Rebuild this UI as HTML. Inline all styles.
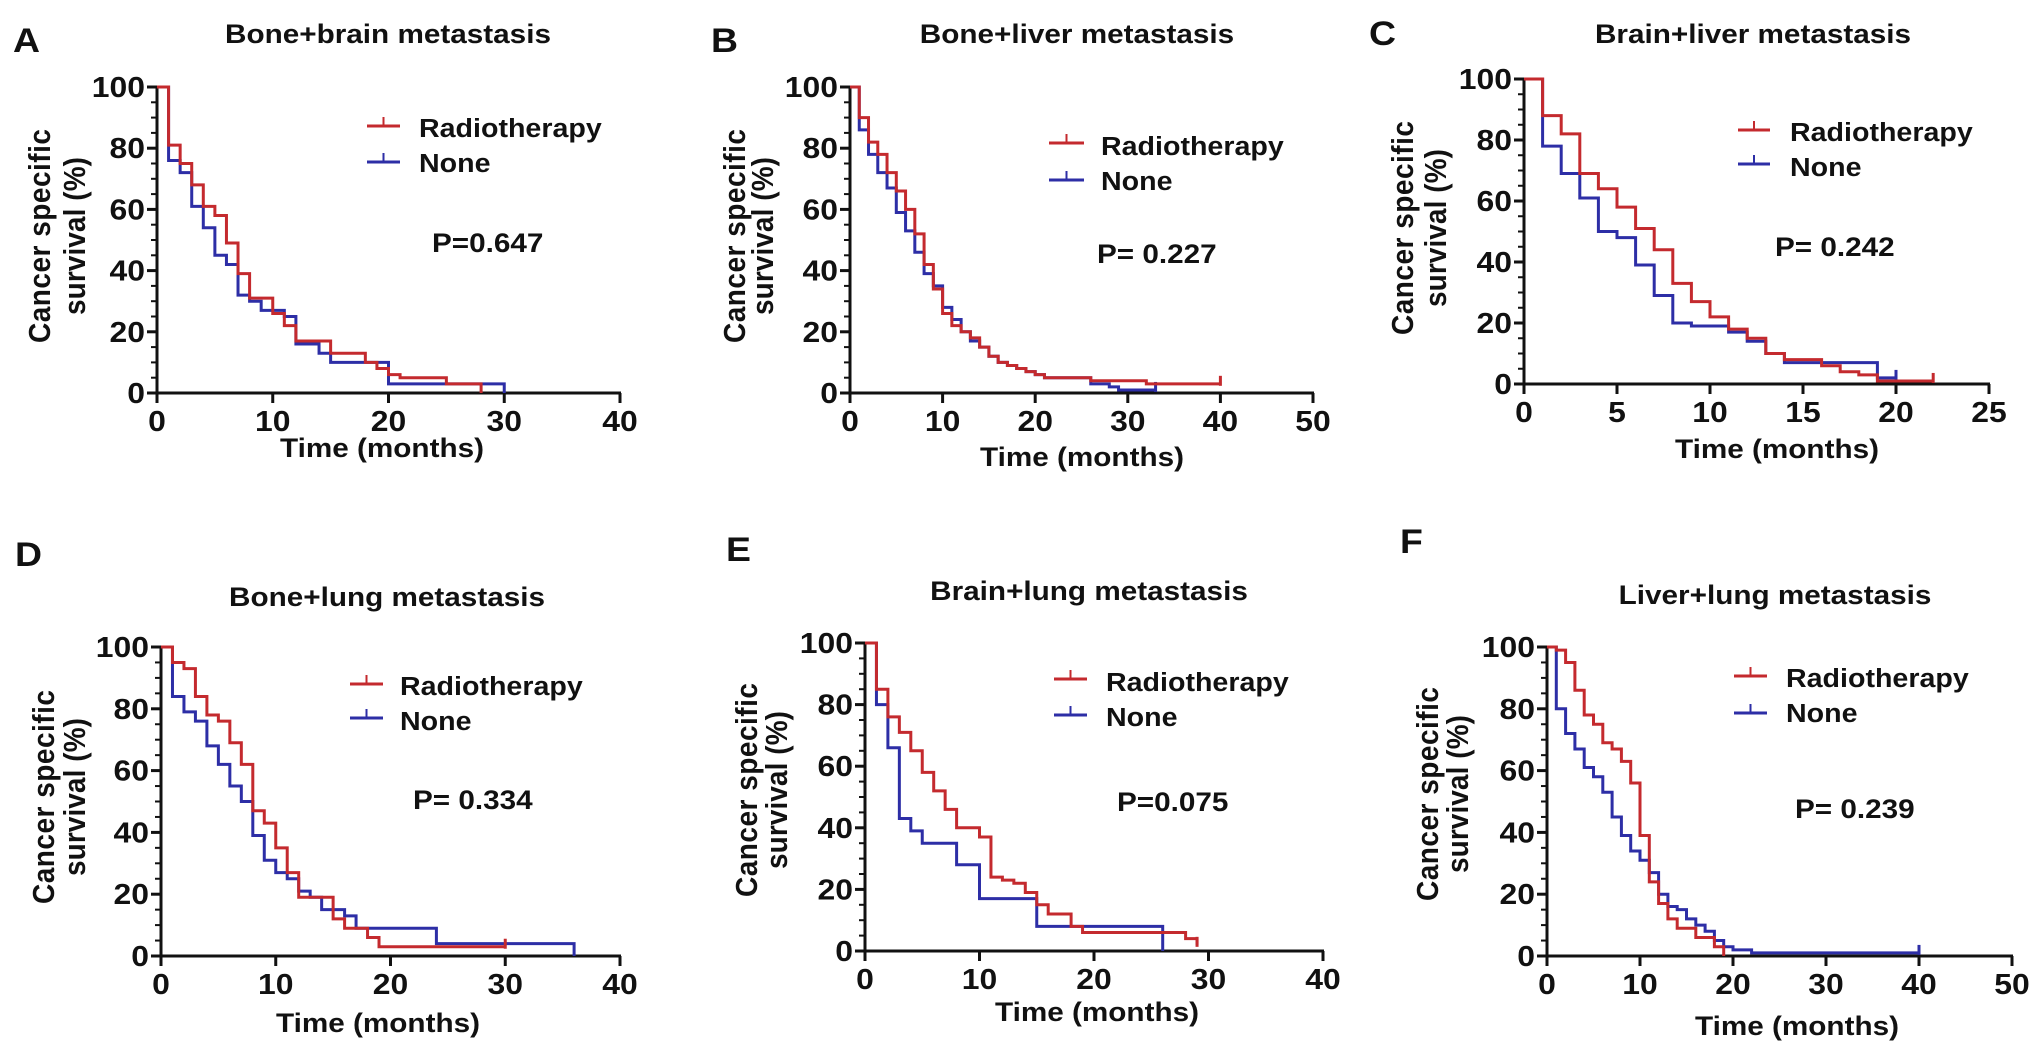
<!DOCTYPE html>
<html><head><meta charset="utf-8"><style>
html,body{margin:0;padding:0;background:#fff;}
svg{display:block;font-family:"Liberation Sans",Arial,sans-serif;font-weight:bold;}
</style></head><body>
<svg id="fig" width="2031" height="1054" viewBox="0 0 2031 1054" xmlns="http://www.w3.org/2000/svg"></svg>
<script>
// ---------- DATA (time of drop, survival after drop, end time) ----------
const aRadT=[1,2,3,4,5,6,7,8,10,11,12,15,18,19,20,21,25,28];
const aRadS=[81,75,68,61,58,49,39,31,26,22,17,13,10,8,6,5,3,0];
const aRadEnd=28;
const aNoneT=[1,2,3,4,5,6,7,8,9,11,12,14,15,20,30];
const aNoneS=[76,72,61,54,45,42,32,30,27,25,16,13,10,3,0];
const aNoneEnd=30;

const bRadT=[1,2,3,4,5,6,7,8,9,10,11,12,13,14,15,16,17,18,19,20,21,26,32];
const bRadS=[90,82,78,72,66,60,52,42,34,26,22,20,18,15,12,10,9,8,7,6,5,4,3];
const bRadEnd=40;
const bNoneT=[1,2,3,4,5,6,7,8,9,10,11,12,13,14,15,16,17,18,19,20,21,26,28,29];
const bNoneS=[86,78,72,67,59,53,46,39,35,28,24,20,17,15,12,10,9,8,7,6,5,3,2,1];
const bNoneEnd=33;

const cRadT=[1,2,3,4,5,6,7,8,9,10,11,12,13,14,16,17,18,19];
const cRadS=[88,82,69,64,58,51,44,33,27,22,18,15,10,8,6,4,3,1];
const cRadEnd=22;
const cNoneT=[1,2,3,4,5,6,7,8,9,11,12,13,14,19];
const cNoneS=[78,69,61,50,48,39,29,20,19,17,14,10,7,2];
const cNoneEnd=20;

const dRadT=[1,2,3,4,5,6,7,8,9,10,11,12,15,16,18,19];
const dRadS=[95,93,84,78,76,69,62,47,43,35,27,19,12,9,6,3];
const dRadEnd=30;
const dNoneT=[1,2,3,4,5,6,7,8,9,10,11,12,13,14,16,17,24,36];
const dNoneS=[84,79,76,68,62,55,50,39,31,27,25,21,19,15,13,9,4,0];
const dNoneEnd=36;

const eRadT=[1,2,3,4,5,6,7,8,10,11,12,13,14,15,16,18,19,28,29];
const eRadS=[85,76,71,65,58,52,46,40,37,24,23,22,19,15,12,8,6,4,2];
const eRadEnd=29;
const eNoneT=[1,2,3,4,5,8,10,15,26];
const eNoneS=[80,66,43,39,35,28,17,8,0];
const eNoneEnd=26;

const fRadT=[1,2,3,4,5,6,7,8,9,10,11,12,13,14,16,18,19];
const fRadS=[99,95,86,78,75,69,67,63,56,39,24,17,12,9,6,3,0];
const fRadEnd=19;
const fNoneT=[1,2,3,4,5,6,7,8,9,10,11,12,13,14,15,16,17,18,19,20,22];
const fNoneS=[80,72,67,61,58,53,45,39,34,31,27,20,16,15,12,10,8,5,3,2,1];
const fNoneEnd=40;

const xTicksA=[0,10,20,30,40];
const xTicksB=[0,10,20,30,40,50];
const xTicksC=[0,5,10,15,20,25];
const yTicks=[0,20,40,60,80,100];
const pValues=["P=0.647","P= 0.227","P= 0.242","P= 0.334","P=0.075","P= 0.239"];
const titles=["Bone+brain metastasis","Bone+liver metastasis","Brain+liver metastasis","Bone+lung metastasis","Brain+lung metastasis","Liver+lung metastasis"];

// ---------- LAYOUT ----------
const RED="#c42a2e", BLUE="#2d2ea6", SX=1.1;
const panels=[
 {id:"a",lab:"A",labX:13,labY:52,x0:157,x1:620,y100:87,y0:393,xmax:40,ticks:xTicksA,titleX:388,titleY:43,
  legX1:367,legX2:400,legY1:126,legY2:162,legTX:419,legTY1:137,legTY2:172,pX:432,pY:252,yt1:50,yt2:85,ytc:236,xtX:382,xtY:457,rad:[aRadT,aRadS,aRadEnd],none:[aNoneT,aNoneS,aNoneEnd]},
 {id:"b",lab:"B",labX:711,labY:52,x0:850,x1:1313,y100:87,y0:393,xmax:50,ticks:xTicksB,titleX:1077,titleY:43,
  legX1:1049,legX2:1084,legY1:143,legY2:180,legTX:1101,legTY1:155,legTY2:190,pX:1097,pY:263,yt1:745,yt2:773,ytc:236,xtX:1082,xtY:466,rad:[bRadT,bRadS,bRadEnd],none:[bNoneT,bNoneS,bNoneEnd]},
 {id:"c",lab:"C",labX:1369,labY:45,x0:1524,x1:1989,y100:79,y0:384,xmax:25,ticks:xTicksC,titleX:1753,titleY:43,
  legX1:1738,legX2:1770,legY1:130,legY2:164,legTX:1790,legTY1:141,legTY2:176,pX:1775,pY:256,yt1:1413,yt2:1446,ytc:228,xtX:1777,xtY:458,rad:[cRadT,cRadS,cRadEnd],none:[cNoneT,cNoneS,cNoneEnd]},
 {id:"d",lab:"D",labX:15,labY:566,x0:161,x1:620,y100:647,y0:956,xmax:40,ticks:xTicksA,titleX:387,titleY:606,
  legX1:350,legX2:383,legY1:684,legY2:718,legTX:400,legTY1:695,legTY2:730,pX:413,pY:809,yt1:54,yt2:85,ytc:797,xtX:378,xtY:1032,rad:[dRadT,dRadS,dRadEnd],none:[dNoneT,dNoneS,dNoneEnd]},
 {id:"e",lab:"E",labX:726,labY:561,x0:865,x1:1323,y100:643,y0:951,xmax:40,ticks:xTicksA,titleX:1089,titleY:600,
  legX1:1054,legX2:1087,legY1:679,legY2:715,legTX:1106,legTY1:691,legTY2:726,pX:1117,pY:811,yt1:757,yt2:787,ytc:790,xtX:1097,xtY:1021,rad:[eRadT,eRadS,eRadEnd],none:[eNoneT,eNoneS,eNoneEnd]},
 {id:"f",lab:"F",labX:1400,labY:553,x0:1547,x1:2012,y100:647,y0:956,xmax:50,ticks:xTicksB,titleX:1775,titleY:604,
  legX1:1734,legX2:1767,legY1:676,legY2:713,legTX:1786,legTY1:687,legTY2:722,pX:1795,pY:818,yt1:1438,yt2:1468,ytc:794,xtX:1797,xtY:1035,rad:[fRadT,fRadS,fRadEnd],none:[fNoneT,fNoneS,fNoneEnd]}
];

const NS="http://www.w3.org/2000/svg";
const svg=document.getElementById("fig");
function mk(tag,attrs,parent){const e=document.createElementNS(NS,tag);for(const k in attrs)e.setAttribute(k,attrs[k]);(parent||svg).appendChild(e);return e;}
function txt(parent,s,x,y,size,anchor,rot){
  const e=mk("text",{transform:"translate("+x+","+y+") scale("+SX+",1)"+(rot?" rotate(-90)":""),"font-size":size,"text-anchor":anchor||"start",fill:"#111"},parent);
  e.textContent=s;return e;
}

panels.forEach((p,i)=>{
  const g=mk("g",{});
  
  
  const X=v=>p.x0+(p.x1-p.x0)*v/p.xmax;
  const Y=v=>p.y0+(p.y100-p.y0)*v/100;

  const lab=txt(g,p.lab,p.labX,p.labY,34,"start");
  
  
  const ti=txt(g,titles[i],p.titleX,p.titleY,27,"middle");
  
  

  const ax=mk("g",{stroke:"#111","stroke-width":3,fill:"none"},g);
  
  
  mk("line",{x1:p.x0,y1:p.y100-1,x2:p.x0,y2:p.y0+1},ax);
  mk("line",{x1:p.x0-1,y1:p.y0,x2:p.x1+1,y2:p.y0},ax);
  for(let v=0;v<=100;v+=5){
    const major=v%20===0;
    mk("line",{x1:p.x0-(major?10:6),y1:Y(v),x2:p.x0,y2:Y(v),"stroke-width":major?3:2},ax);
  }
  yTicks.forEach(v=>{
    const t=txt(g,String(v),p.x0-12,Y(v)+10,29,"end");
    
    
  });
  p.ticks.forEach(v=>{
    mk("line",{x1:X(v),y1:p.y0,x2:X(v),y2:p.y0+10},ax);
    const t=txt(g,String(v),X(v),p.y0+38,29,"middle");
    
    
  });
  const xt=txt(g,"Time (months)",p.xtX,p.xtY,27,"middle");
  
  
  const y1=txt(g,"Cancer specific",p.yt1,p.ytc,28,"middle",true);
  y1.setAttribute('textLength',214);
  
  
  const y2=txt(g,"survival (%)",p.yt2,p.ytc,28,"middle",true);
  y2.setAttribute('textLength',158);
  
  

  [[p.none,BLUE,"none"],[p.rad,RED,"radiotherapy"]].forEach(([d,col,nm])=>{
    const [T,S,end]=d;
    let path="M"+X(0)+" "+Y(100);
    let cur=100;
    for(let k=0;k<T.length;k++){path+=" H"+X(T[k])+" V"+Y(S[k]);cur=S[k];}
    path+=" H"+X(end);
    const ln=mk("path",{d:path,stroke:col,"stroke-width":3,fill:"none"},g);
    
    
    if(cur>0){
      const ck=mk("line",{x1:X(end),y1:Y(cur)-8,x2:X(end),y2:Y(cur)+2,stroke:col,"stroke-width":3},g);
      
      
    }
  });

  [[p.legY1,p.legTY1,RED,"Radiotherapy","legend-radiotherapy"],[p.legY2,p.legTY2,BLUE,"None","legend-none"]].forEach(([ly,ty,col,s,nm])=>{
    const lg=mk("g",{},g);
    
    
    mk("line",{x1:p.legX1,y1:ly,x2:p.legX2,y2:ly,stroke:col,"stroke-width":3},lg);
    mk("line",{x1:(p.legX1+p.legX2)/2,y1:ly-9,x2:(p.legX1+p.legX2)/2,y2:ly,stroke:col,"stroke-width":2},lg);
    txt(lg,s,p.legTX,ty,26,"start");
  });
  const pv=txt(g,pValues[i],p.pX,p.pY,27,"start");
  
  
});
</script>
</body></html>
